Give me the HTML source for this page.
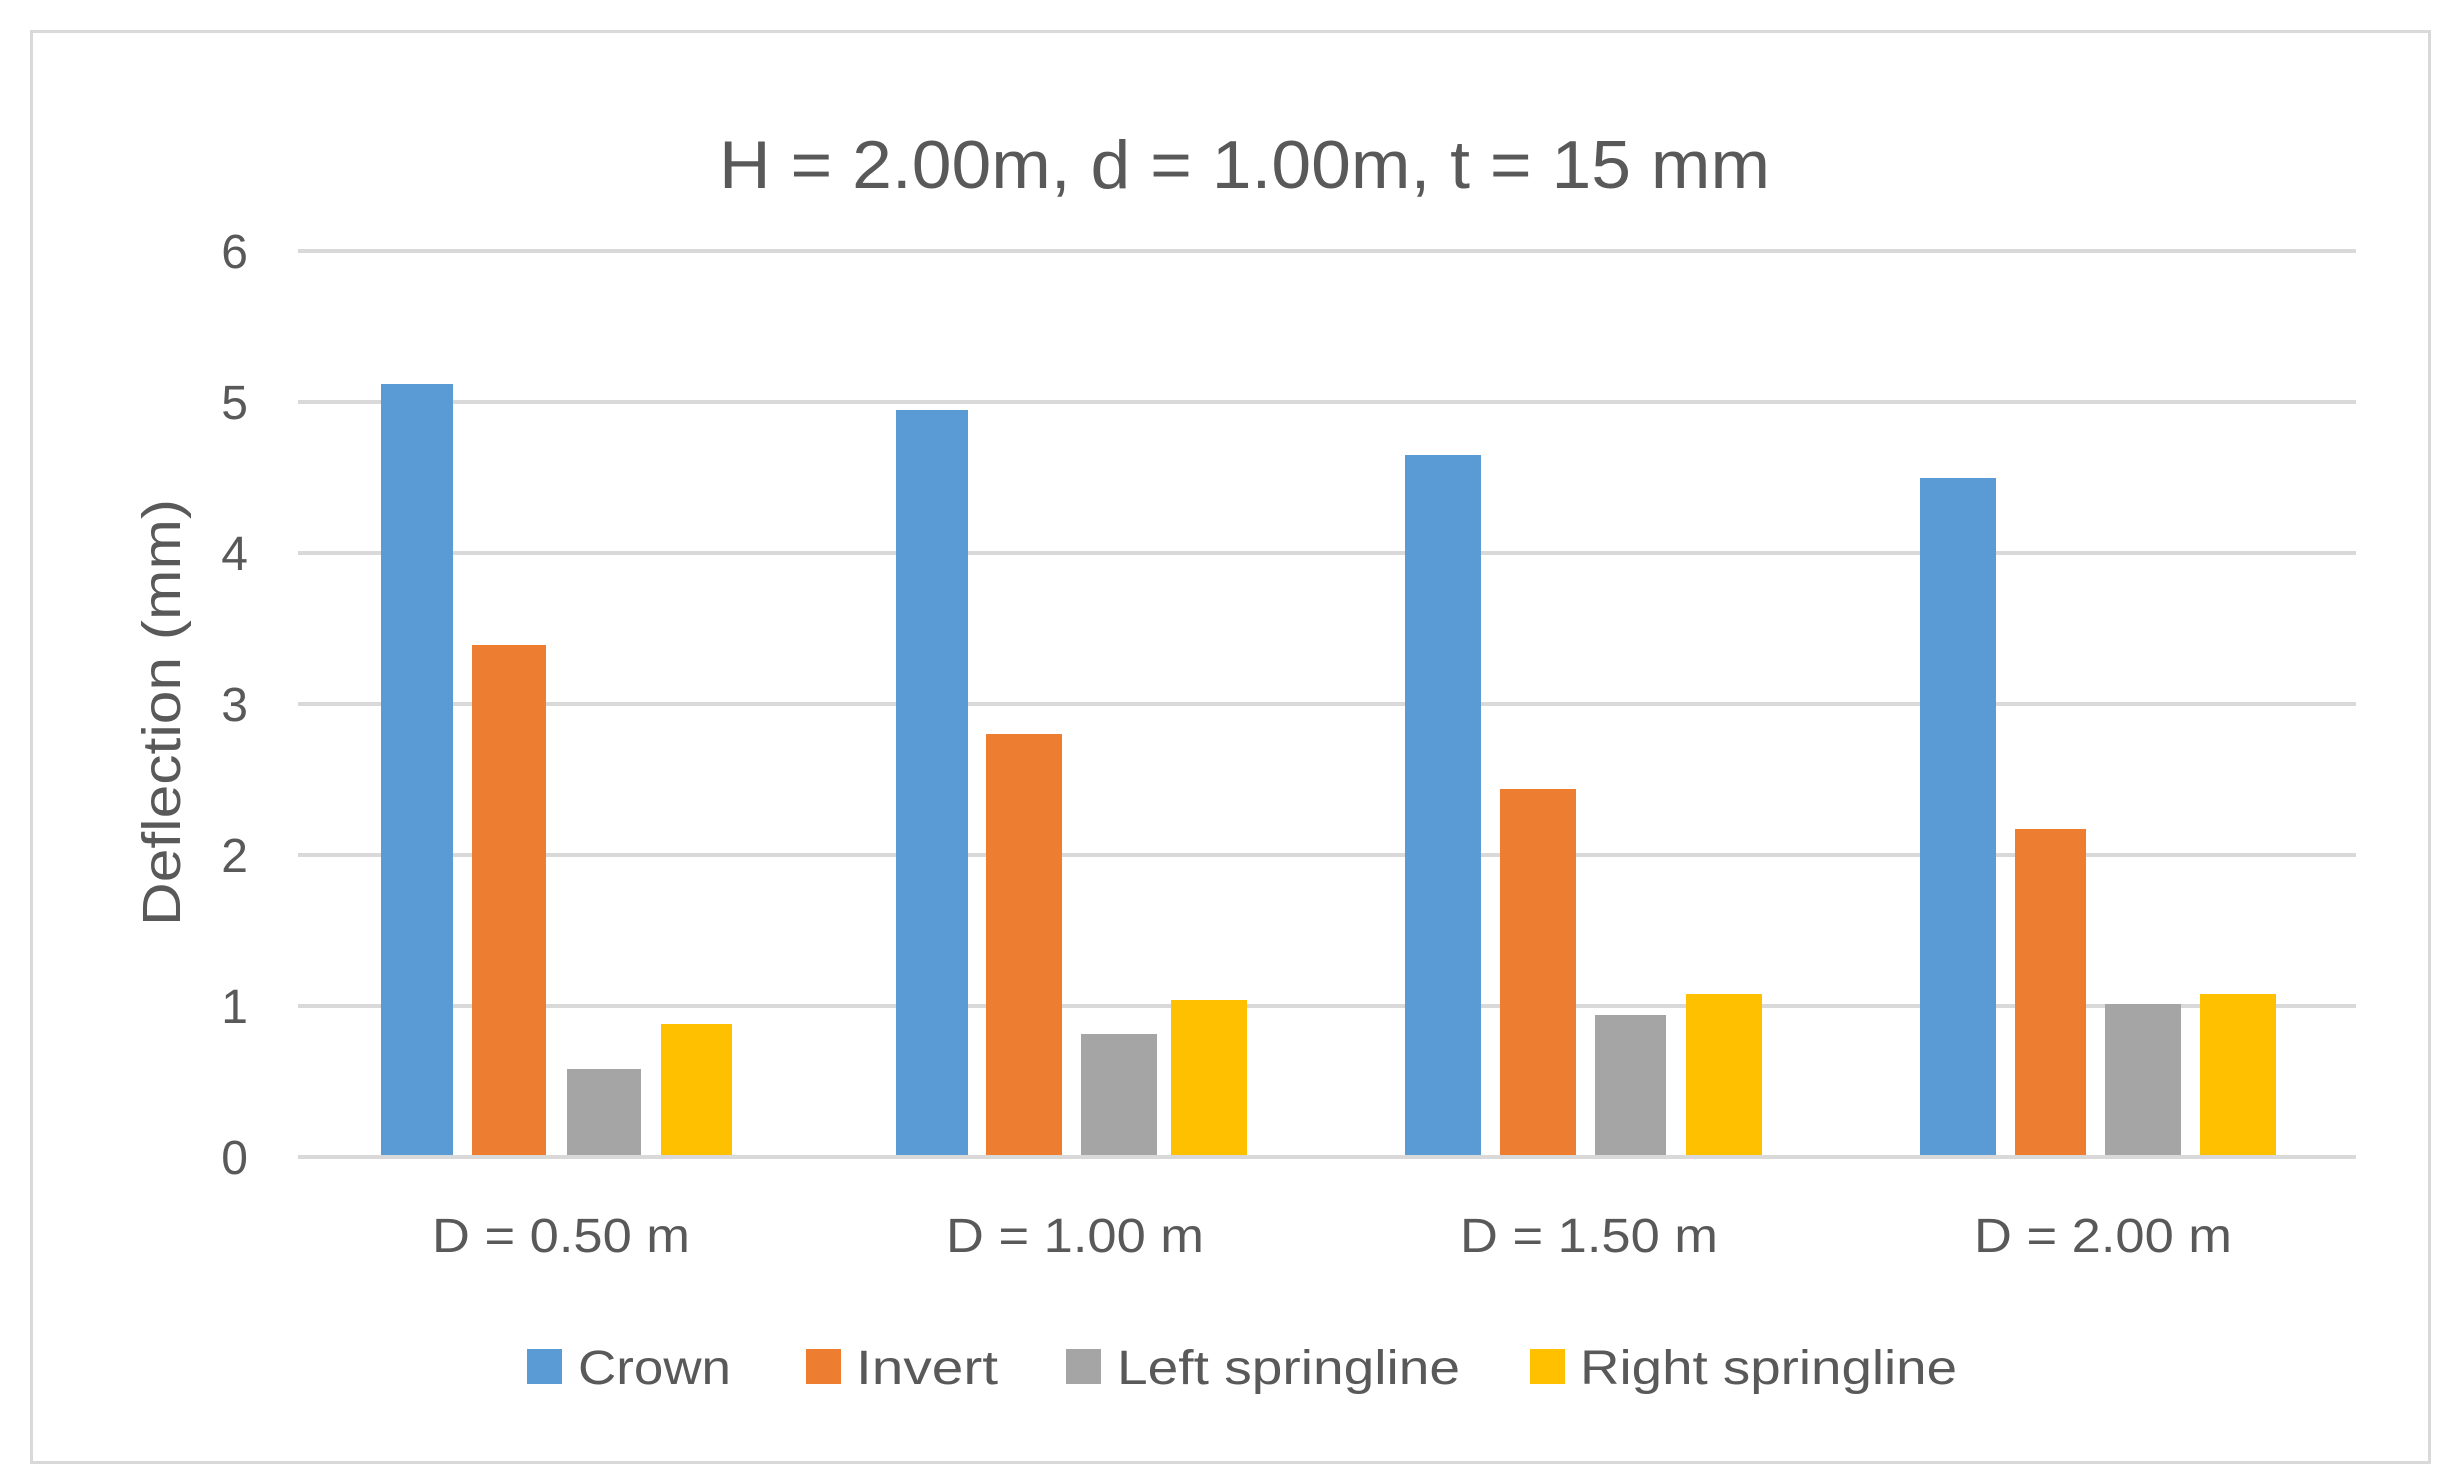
<!DOCTYPE html>
<html><head><meta charset="utf-8"><style>
html,body{margin:0;padding:0;background:#fff}
svg{display:block}
text{font-family:"Liberation Sans",sans-serif;fill:#595959}
</style></head><body>
<svg width="2461" height="1484" viewBox="0 0 2461 1484" xmlns="http://www.w3.org/2000/svg">
<rect x="0" y="0" width="2461" height="1484" fill="#fff"/>
<rect x="31.5" y="31.5" width="2398" height="1431" fill="none" stroke="#d9d9d9" stroke-width="3"/>
<text x="719" y="188" font-size="68" textLength="1051" lengthAdjust="spacingAndGlyphs">H = 2.00m, d = 1.00m, t = 15 mm</text>
<g stroke="#d9d9d9" stroke-width="4">
<line x1="298" x2="2356" y1="251" y2="251"/>
<line x1="298" x2="2356" y1="402" y2="402"/>
<line x1="298" x2="2356" y1="553" y2="553"/>
<line x1="298" x2="2356" y1="704" y2="704"/>
<line x1="298" x2="2356" y1="855" y2="855"/>
<line x1="298" x2="2356" y1="1006" y2="1006"/>
<line x1="298" x2="2356" y1="1157" y2="1157"/>
</g>
<g font-size="48" text-anchor="end">
<text x="248" y="268">6</text>
<text x="248" y="419">5</text>
<text x="248" y="570">4</text>
<text x="248" y="721">3</text>
<text x="248" y="872">2</text>
<text x="248" y="1023">1</text>
<text x="248" y="1174">0</text>
</g>
<text transform="translate(180,926) rotate(-90)" font-size="54" textLength="427" lengthAdjust="spacingAndGlyphs">Deflection (mm)</text>
<g>
<rect x="381" y="384" width="72" height="771" fill="#5b9bd5"/>
<rect x="472" y="645" width="74" height="510" fill="#ed7d31"/>
<rect x="567" y="1069" width="74" height="86" fill="#a5a5a5"/>
<rect x="661" y="1024" width="71" height="131" fill="#ffc000"/>

<rect x="896" y="410" width="72" height="745" fill="#5b9bd5"/>
<rect x="986" y="734" width="76" height="421" fill="#ed7d31"/>
<rect x="1081" y="1034" width="76" height="121" fill="#a5a5a5"/>
<rect x="1171" y="1000" width="76" height="155" fill="#ffc000"/>

<rect x="1405" y="455" width="76" height="700" fill="#5b9bd5"/>
<rect x="1500" y="789" width="76" height="366" fill="#ed7d31"/>
<rect x="1595" y="1015" width="71" height="140" fill="#a5a5a5"/>
<rect x="1686" y="994" width="76" height="161" fill="#ffc000"/>

<rect x="1920" y="478" width="76" height="677" fill="#5b9bd5"/>
<rect x="2015" y="829" width="71" height="326" fill="#ed7d31"/>
<rect x="2105" y="1004" width="76" height="151" fill="#a5a5a5"/>
<rect x="2200" y="994" width="76" height="161" fill="#ffc000"/>
</g>
<g font-size="48">
<text x="432" y="1252" textLength="258" lengthAdjust="spacingAndGlyphs">D = 0.50 m</text>
<text x="946" y="1252" textLength="258" lengthAdjust="spacingAndGlyphs">D = 1.00 m</text>
<text x="1460" y="1252" textLength="258" lengthAdjust="spacingAndGlyphs">D = 1.50 m</text>
<text x="1974" y="1252" textLength="258" lengthAdjust="spacingAndGlyphs">D = 2.00 m</text>
</g>
<g font-size="48">
<rect x="527" y="1349" width="35" height="35" fill="#5b9bd5"/>
<text x="578" y="1384" textLength="153" lengthAdjust="spacingAndGlyphs">Crown</text>
<rect x="806" y="1349" width="35" height="35" fill="#ed7d31"/>
<text x="856" y="1384" textLength="142" lengthAdjust="spacingAndGlyphs">Invert</text>
<rect x="1066" y="1349" width="35" height="35" fill="#a5a5a5"/>
<text x="1117" y="1384" textLength="343" lengthAdjust="spacingAndGlyphs">Left springline</text>
<rect x="1530" y="1349" width="35" height="35" fill="#ffc000"/>
<text x="1580" y="1384" textLength="377" lengthAdjust="spacingAndGlyphs">Right springline</text>
</g>
</svg>
</body></html>
